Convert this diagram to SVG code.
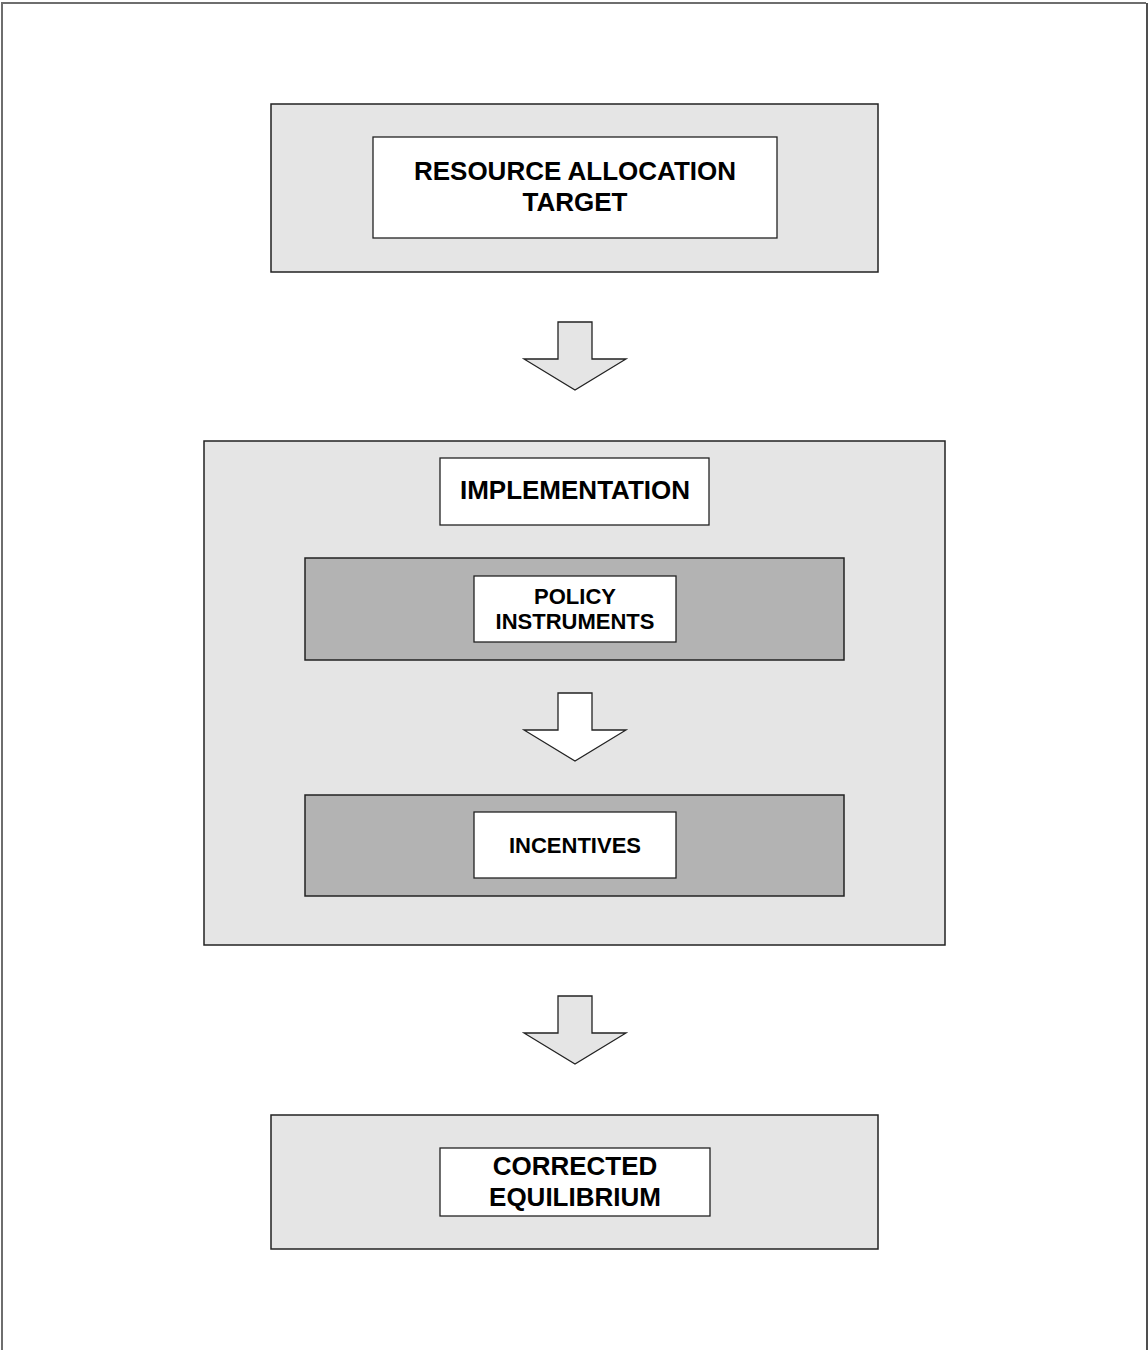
<svg xmlns="http://www.w3.org/2000/svg" width="1148" height="1350" viewBox="0 0 1148 1350">
  <style>
    .panel { fill: #e5e5e5; stroke: #222; stroke-width: 1.5; }
    .band { fill: #b3b3b3; stroke: #222; stroke-width: 1.5; }
    .card { fill: #ffffff; stroke: #222; stroke-width: 1.3; }
    .arrow { stroke: #222; stroke-width: 1.3; stroke-linejoin: miter; }
    .lbl { font-family: "Liberation Sans", Arial, sans-serif; font-weight: bold; fill: #000; text-anchor: middle; }
    .big { font-size: 26px; }
    .small { font-size: 22px; }
  </style>
  <defs>
    <!-- block arrow pointing down, origin at top-centre of the stem -->
    <path id="downArrow" d="M-17,0 H17 V37 H51 L0,68 L-51,37 H-17 Z"/>
  </defs>

  <rect width="1148" height="1350" fill="#ffffff"/>

  <!-- page frame -->
  <path d="M2,1350 V3 H1146" fill="none" stroke="#6e6e6e" stroke-width="2"/>
  <path d="M1147,3 V1350" fill="none" stroke="#222" stroke-width="1.6"/>

  <g id="target">
    <rect class="panel" x="271" y="104" width="607" height="168"/>
    <rect class="card" x="373" y="137" width="404" height="101"/>
    <text class="lbl big" x="575" y="180">RESOURCE ALLOCATION</text>
    <text class="lbl big" x="575" y="211">TARGET</text>
  </g>

  <g id="implementation">
    <rect class="panel" x="204" y="441" width="741" height="504"/>
    <rect class="card" x="440" y="458" width="269" height="67"/>
    <text class="lbl big" x="575" y="499">IMPLEMENTATION</text>
  </g>

  <g id="policy-instruments">
    <rect class="band" x="305" y="558" width="539" height="102"/>
    <rect class="card" x="474" y="576" width="202" height="66"/>
    <text class="lbl small" x="575" y="604">POLICY</text>
    <text class="lbl small" x="575" y="629">INSTRUMENTS</text>
  </g>

  <g id="incentives">
    <rect class="band" x="305" y="795" width="539" height="101"/>
    <rect class="card" x="474" y="812" width="202" height="66"/>
    <text class="lbl small" x="575" y="853">INCENTIVES</text>
  </g>

  <g id="corrected-equilibrium">
    <rect class="panel" x="271" y="1115" width="607" height="134"/>
    <rect class="card" x="440" y="1148" width="270" height="68"/>
    <text class="lbl big" x="575" y="1175">CORRECTED</text>
    <text class="lbl big" x="575" y="1206">EQUILIBRIUM</text>
  </g>

  <g id="connectors">
    <use href="#downArrow" class="arrow" x="575" y="322" fill="#e5e5e5"/>
    <use href="#downArrow" class="arrow" x="575" y="693" fill="#ffffff"/>
    <use href="#downArrow" class="arrow" x="575" y="996" fill="#e5e5e5"/>
  </g>
</svg>
